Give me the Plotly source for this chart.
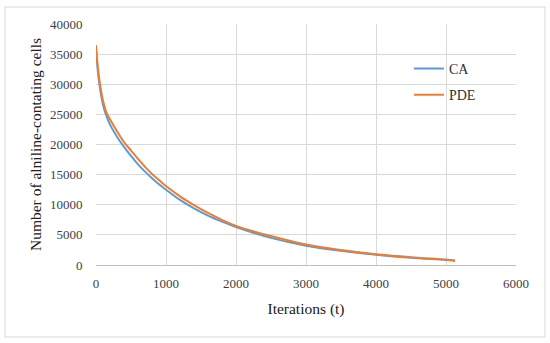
import plotly.graph_objects as go

t = [0, 25, 57, 100, 150, 200, 300, 400, 500, 600, 700, 800, 900, 1000, 1200, 1400,
     1600, 1800, 2000, 2500, 3000, 3500, 4000, 4500, 5000, 5130]
pde = [36500, 33000, 30000, 27300, 25300, 24200, 22200, 20400, 19000, 17600, 16300, 15100,
       14100, 13100, 11400, 9950, 8650, 7500, 6500, 4800, 3400, 2500, 1800, 1300, 900, 750]
ca = [36000, 32300, 29300, 26600, 24700, 23300, 21300, 19600, 18100, 16700, 15500, 14400,
      13400, 12500, 10800, 9400, 8200, 7200, 6300, 4500, 3200, 2350, 1700, 1200, 850, 720]

font = "Liberation Serif"
fig = go.Figure()
fig.add_trace(go.Scatter(x=t, y=ca, name="CA", mode="lines", legendgroup="a",
                         line=dict(color="#5B9BD5", width=2, shape="spline")))
fig.add_trace(go.Scatter(x=t, y=pde, name="PDE", mode="lines", legendgroup="b",
                         line=dict(color="#ED7D31", width=2, shape="spline")))

fig.update_layout(
    width=550, height=343,
    margin=dict(l=96, r=34, t=24, b=78),
    paper_bgcolor="white", plot_bgcolor="white",
    font=dict(family=font, size=13, color="#404040"),
    showlegend=True,
    legend=dict(x=0.745, y=0.88, xanchor="left", yanchor="top", traceorder="grouped",
                bgcolor="rgba(0,0,0,0)", font=dict(size=14, color="#303030"),
                tracegroupgap=5, itemwidth=30),
    xaxis=dict(range=[0, 6000], dtick=1000, showgrid=True, gridcolor="#d9d9d9",
               gridwidth=1, zeroline=False, showline=True, linecolor="#bfbfbf",
               ticks="outside", ticklen=6, tickcolor="rgba(0,0,0,0)",
               title=dict(text="Iterations (t)", font=dict(size=15.5, color="#202020"), standoff=13)),
    yaxis=dict(range=[0, 40000], dtick=5000, tickformat="d", showgrid=True, gridcolor="#d9d9d9",
               gridwidth=1, zeroline=False, showline=False,
               ticks="outside", ticklen=10, tickcolor="rgba(0,0,0,0)",
               title=dict(text="Number of alniline-contating cells", font=dict(size=15.5, color="#202020"), standoff=4)),
    shapes=[dict(type="rect", xref="paper", yref="paper",
                 x0=(5 - 96) / 420, x1=(545 - 96) / 420,
                 y0=(265 - 337) / 241, y1=(265 - 7) / 241,
                 line=dict(color="#d9d9d9", width=1), fillcolor="rgba(0,0,0,0)", layer="below")],
)
fig.write_html("out.html", config={"displayModeBar": False},
               post_script="document.body.style.margin='0';")
